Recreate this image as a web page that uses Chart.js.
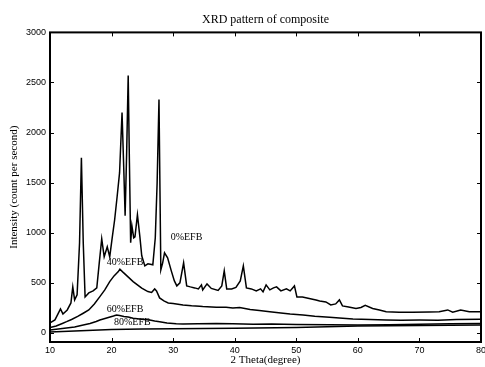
<!DOCTYPE html>
<html><head><meta charset="utf-8">
<script src="https://cdn.jsdelivr.net/npm/chart.js@4/dist/chart.umd.min.js"></script>
<style>html,body{margin:0;padding:0;background:#fff}</style>
</head><body>
<canvas id="c" width="485" height="367"></canvas>
<script>
// ---- data ----
const seriesNames = ['0%EFB', '40%EFB', '60%EFB', '80%EFB'];

const theta0 = [10, 10.8, 11.3, 11.7, 12.1, 12.8, 13.4, 13.7, 14.0, 14.4, 14.8, 15.1, 15.4, 15.7, 16.3, 17.0, 17.6, 18.0, 18.4, 18.8, 19.3, 19.7, 20.1, 20.5, 20.9, 21.3, 21.7, 22.0, 22.2, 22.45, 22.7, 22.9, 23.1, 23.3, 23.6, 23.8, 24.2, 24.6, 24.9, 25.4, 25.9, 26.7, 27.1, 27.4, 27.7, 28.0, 28.3, 28.6, 29.1, 29.7, 30.2, 30.6, 31.1, 31.7, 32.2, 32.8, 33.5, 34.1, 34.6, 34.8, 35.5, 36.2, 37.3, 37.9, 38.3, 38.7, 39.5, 40.2, 40.9, 41.4, 41.9, 42.7, 43.5, 44.2, 44.6, 45.1, 45.7, 46.3, 46.8, 47.5, 48.4, 49.0, 49.7, 50.1, 51.0, 52.1, 53.2, 53.8, 54.8, 55.6, 56.4, 57.0, 57.5, 58.5, 59.7, 60.5, 61.2, 62.4, 63.5, 64.6, 66.7, 68.9, 71.6, 73.2, 74.6, 75.4, 76.7, 78.1, 80];
const counts0 = [100, 130, 190, 240, 190, 230, 300, 460, 330, 380, 900, 1750, 900, 360, 400, 420, 450, 700, 940, 760, 860, 760, 950, 1130, 1360, 1600, 2200, 1600, 1170, 1800, 2570, 1700, 900, 1070, 950, 960, 1180, 960, 770, 670, 690, 680, 950, 1500, 2330, 630, 700, 800, 750, 620, 520, 470, 500, 700, 470, 460, 450, 440, 480, 430, 490, 445, 425, 470, 620, 440, 440, 455, 520, 670, 450, 440, 420, 440, 410, 480, 430, 450, 460, 420, 440, 420, 470, 360, 360, 345, 330, 320, 310, 280, 290, 330, 270, 260, 245, 255, 275, 245, 230, 213, 207, 207, 210, 213, 230, 207, 230, 213, 212];

const theta40 = [10, 11, 12, 12.7, 13.5, 14.5, 15.4, 16.3, 17.2, 18.1, 18.9, 19.7, 20.4, 21.1, 21.35, 21.8, 22.5, 23.5, 24.2, 24.9, 25.4, 25.9, 26.5, 27.0, 27.3, 27.8, 28.5, 29.2, 30.0, 31.6, 33.0, 34.3, 34.8, 37.0, 38.6, 39.7, 40.8, 42.5, 44.0, 45.7, 47.5, 49.0, 51.1, 53.0, 55.4, 57.0, 59.2, 62.0, 64.6, 67.0, 70.0, 73.0, 76.0, 80];
const counts40 = [55, 70, 95, 113, 135, 165, 197, 230, 290, 363, 430, 513, 570, 613, 637, 610, 570, 513, 480, 447, 430, 413, 405, 440, 420, 350, 320, 300, 295, 280, 272, 268, 265, 257, 258, 250, 255, 235, 225, 213, 200, 190, 180, 168, 157, 150, 140, 135, 130, 128, 130, 128, 135, 137];

const theta60 = [10, 12, 14, 15.4, 16.5, 17.5, 18.1, 19.2, 20.3, 20.8, 21.3, 22.0, 22.7, 23.5, 24.5, 25.3, 26.2, 27.0, 27.8, 29.0, 30.5, 31.6, 34, 37, 39.7, 43, 46, 50, 55.4, 60, 65, 70, 75, 80];
const counts60 = [30, 45, 60, 80, 95, 115, 130, 150, 170, 180, 175, 165, 160, 148, 140, 135, 130, 120, 113, 100, 92, 90, 92, 95, 92, 88, 90, 85, 82, 80, 82, 88, 92, 95];

const theta80 = [10, 15, 20, 25, 30, 40, 50, 55, 60, 70, 80];
const counts80 = [10, 22, 35, 40, 43, 47, 55, 63, 70, 75, 80];

const xTicks = [10, 20, 30, 40, 50, 60, 70, 80];
const yTicks = [0, 500, 1000, 1500, 2000, 2500, 3000];

// where each curve's name sits, in data units
const labelTheta = [29.6, 19.2, 19.2, 20.4];
const labelCount = [955, 700, 240, 110];

// ---- chart ----
const toPts = (xs, ys) => xs.map((x, i) => ({x: x, y: ys[i]}));
const lineStyle = {borderColor: '#000', borderWidth: 1.5, pointRadius: 0, tension: 0, fill: false};

const frame = {
  id: 'frame',
  afterDatasetsDraw(chart) {
    const {ctx, chartArea: a, scales: {x, y}} = chart;
    ctx.save();
    ctx.strokeStyle = '#000';
    ctx.lineWidth = 1;
    ctx.beginPath();
    xTicks.forEach(v => {
      const px = Math.round(x.getPixelForValue(v)) + 0.5;
      ctx.moveTo(px, a.bottom); ctx.lineTo(px, a.bottom - 4);
      ctx.moveTo(px, a.top); ctx.lineTo(px, a.top + 4);
    });
    yTicks.forEach(v => {
      const py = Math.round(y.getPixelForValue(v)) + 0.5;
      ctx.moveTo(a.left, py); ctx.lineTo(a.left + 4, py);
      ctx.moveTo(a.right, py); ctx.lineTo(a.right - 4, py);
    });
    ctx.stroke();
    ctx.lineWidth = 2;
    ctx.strokeRect(a.left, a.top, a.right - a.left, a.bottom - a.top);
    // curve names
    ctx.fillStyle = '#000';
    ctx.font = '10px "Liberation Serif", serif';
    ctx.textAlign = 'left';
    ctx.textBaseline = 'middle';
    seriesNames.forEach((n, i) => {
      ctx.fillText(n, x.getPixelForValue(labelTheta[i]), y.getPixelForValue(labelCount[i]));
    });
    ctx.restore();
  }
};

new Chart(document.getElementById('c'), {
  type: 'line',
  data: {
    datasets: [
      Object.assign({label: seriesNames[0], data: toPts(theta0, counts0)}, lineStyle),
      Object.assign({label: seriesNames[1], data: toPts(theta40, counts40)}, lineStyle),
      Object.assign({label: seriesNames[2], data: toPts(theta60, counts60)}, lineStyle),
      Object.assign({label: seriesNames[3], data: toPts(theta80, counts80)}, lineStyle)
    ]
  },
  options: {
    responsive: false,
    animation: false,
    layout: {padding: {left: 0, right: 4, top: 0, bottom: 0}},
    plugins: {
      legend: {display: false},
      tooltip: {enabled: false},
      title: {
        display: true,
        text: 'XRD pattern of composite',
        fullSize: false,
        color: '#000',
        font: {family: '"Liberation Serif", serif', size: 12, weight: 'normal'},
        padding: {top: 13, bottom: 5}
      }
    },
    scales: {
      x: {
        type: 'linear',
        min: 10, max: 80,
        grid: {display: false, drawTicks: false},
        border: {display: false},
        afterBuildTicks: s => { s.ticks = xTicks.map(v => ({value: v})); },
        afterFit: s => { s.height = 25; s.paddingLeft = 0; s.paddingRight = 0; },
        ticks: {color: '#000', padding: 3, maxRotation: 0,
          callback: v => String(v),
          font: {family: '"Liberation Sans", Arial, sans-serif', size: 9}},
        title: {display: true, text: '2 Theta(degree)', color: '#000',
          font: {family: '"Liberation Serif", serif', size: 11},
          padding: {top: 0, bottom: 0}}
      },
      y: {
        type: 'linear',
        min: -90, max: 3000,
        grid: {display: false, drawTicks: false},
        border: {display: false},
        afterBuildTicks: s => { s.ticks = yTicks.map(v => ({value: v})); },
        afterFit: s => { s.width = 50; },
        ticks: {color: '#000', padding: 4,
          callback: v => String(v),
          font: {family: '"Liberation Sans", Arial, sans-serif', size: 9}},
        title: {display: true, text: 'Intensity (count per second)', color: '#000',
          font: {family: '"Liberation Serif", serif', size: 11},
          padding: {top: 8, bottom: 0}}
      }
    }
  },
  plugins: [frame]
});
</script>
</body></html>
